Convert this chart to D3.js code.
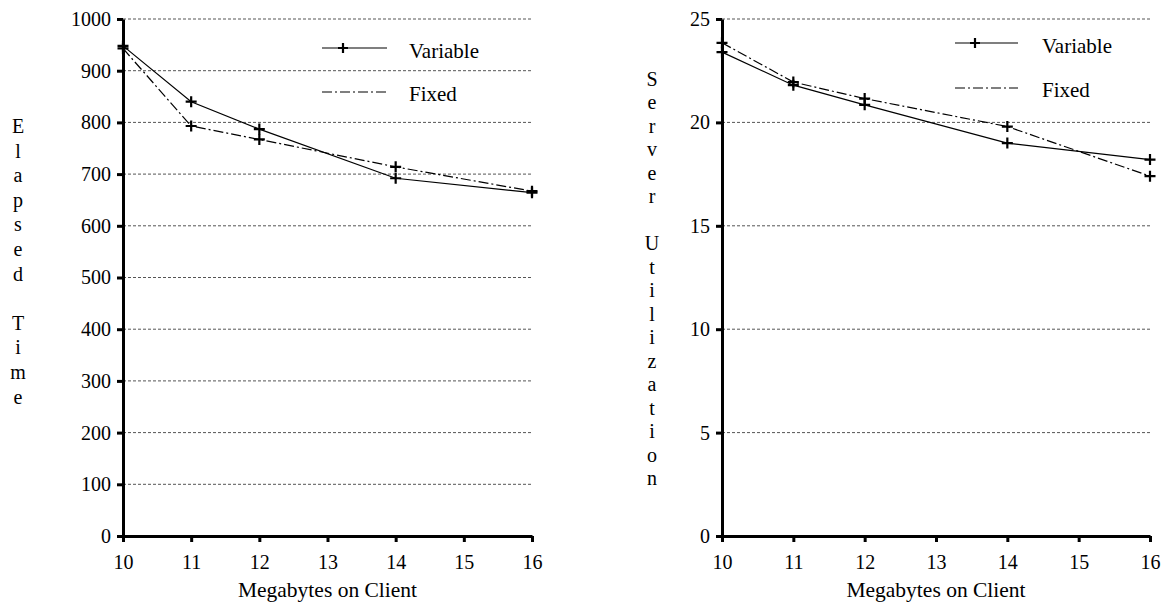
<!DOCTYPE html>
<html>
<head>
<meta charset="utf-8">
<script src="https://cdn.jsdelivr.net/npm/d3@7"></script>
<style>
  html, body { margin: 0; padding: 0; background: #fff; }
  svg { display: block; }
</style>
</head>
<body>
<svg id="chart" width="1162" height="605"></svg>
<script>
// ---------------- data ----------------
const megabytes = [10, 11, 12, 14, 16];
const xTicks = [10, 11, 12, 13, 14, 15, 16];

const elapsedVariable = [948, 840, 787, 692, 664];
const elapsedFixed    = [943, 793, 767, 714, 667];
const elapsedTicks = [0, 100, 200, 300, 400, 500, 600, 700, 800, 900, 1000];

const utilVariable = [23.4, 21.8, 20.85, 19.0, 18.2];
const utilFixed    = [23.85, 21.95, 21.15, 19.8, 17.4];
const utilTicks = [0, 5, 10, 15, 20, 25];

const seriesNames = ["Variable", "Fixed"];
const xTitle = "Megabytes on Client";
const leftYTitle = "Elapsed Time";
const rightYTitle = "Server Utilization";

// ---------------- drawing ----------------
const FONT = "'Liberation Serif', 'Times New Roman', Tinos, 'DejaVu Serif', serif";
const svg = d3.select("#chart");

function drawPanel(cfg) {
  const g = svg.append("g");
  const x = d3.scaleLinear().domain([10, 16]).range([cfg.x0, cfg.x1]);
  const y = d3.scaleLinear().domain([0, cfg.yMax]).range([cfg.y0, cfg.y1]);

  // gridlines
  g.selectAll("line.grid").data(cfg.yTicks.filter(d => d > 0)).enter()
    .append("line")
    .attr("x1", cfg.x0).attr("x2", cfg.x1)
    .attr("y1", d => y(d)).attr("y2", d => y(d))
    .attr("stroke", "#555").attr("stroke-width", 1)
    .attr("stroke-dasharray", "3,2");

  // y axis
  const yAxis = d3.axisLeft(y).tickValues(cfg.yTicks).tickSizeInner(6).tickSizeOuter(0).tickPadding(6)
    .tickFormat(d3.format("d"));
  const ya = g.append("g").attr("transform", `translate(${cfg.x0},0)`).call(yAxis);
  ya.attr("font-family", null);
  ya.select(".domain").attr("stroke", "#000").attr("stroke-width", 3);
  ya.selectAll(".tick line").attr("stroke", "#000").attr("stroke-width", 3);
  ya.selectAll(".tick text").style("font-family", FONT).style("font-size", "20px").attr("fill", "#000");

  // x axis
  const xAxis = d3.axisBottom(x).tickValues(xTicks).tickSizeInner(6).tickSizeOuter(0).tickPadding(13)
    .tickFormat(d3.format("d"));
  const xa = g.append("g").attr("transform", `translate(0,${cfg.y0})`).call(xAxis);
  xa.attr("font-family", null);
  xa.select(".domain").attr("stroke", "#000").attr("stroke-width", 3);
  xa.selectAll(".tick line").attr("stroke", "#000").attr("stroke-width", 3);
  xa.selectAll(".tick text").style("font-family", FONT).style("font-size", "20px").attr("fill", "#000");

  // x title
  g.append("text").attr("x", (cfg.x0 + cfg.x1) / 2).attr("y", cfg.y0 + 61)
    .attr("text-anchor", "middle").style("font-family", FONT).style("font-size", "21.5px").text(xTitle);

  // y title (stacked letters)
  const chars = cfg.yTitle.split("");
  g.selectAll("text.ylab").data(chars).enter().append("text")
    .attr("x", cfg.yTitleX)
    .attr("y", (d, i) => cfg.yTitleTop + i * cfg.yTitleStep)
    .attr("dy", "0.35em")
    .attr("text-anchor", "middle").style("font-family", FONT).style("font-size", "20px")
    .text(d => d);

  // series
  const line = d3.line().x(d => x(d[0])).y(d => y(d[1]));
  const dashes = [null, "10,3,2,3"];
  cfg.series.forEach((vals, si) => {
    const pts = megabytes.map((m, i) => [m, vals[i]]);
    g.append("path").datum(pts).attr("d", line)
      .attr("fill", "none").attr("stroke", "#000").attr("stroke-width", 1.2)
      .attr("stroke-dasharray", dashes[si]);
    g.selectAll(null).data(pts).enter().append("path")
      .attr("d", d => `M${x(d[0]) - 5.5},${y(d[1])}H${x(d[0]) + 5.5}M${x(d[0])},${y(d[1]) - 5.5}V${y(d[1]) + 5.5}`)
      .attr("stroke", "#000").attr("stroke-width", 2.2).attr("fill", "none");
  });

  // legend
  const L = cfg.legend;
  g.append("line").attr("x1", L.x).attr("x2", L.x + L.w).attr("y1", L.y1).attr("y2", L.y1)
    .attr("stroke", "#000").attr("stroke-width", 1.2);
  g.append("path").attr("d", `M${L.mx - 5},${L.y1}H${L.mx + 5}M${L.mx},${L.y1 - 5}V${L.y1 + 5}`)
    .attr("stroke", "#000").attr("stroke-width", 2.2);
  g.append("text").attr("x", L.tx).attr("y", L.y1 + 4).attr("dy", "0.3em")
    .style("font-family", FONT).style("font-size", "21px").text(seriesNames[0]);
  g.append("line").attr("x1", L.x).attr("x2", L.x + L.w).attr("y1", L.y2).attr("y2", L.y2)
    .attr("stroke", "#000").attr("stroke-width", 1.2).attr("stroke-dasharray", "10,3,2,3");
  g.append("text").attr("x", L.tx).attr("y", L.y2 + 3).attr("dy", "0.3em")
    .style("font-family", FONT).style("font-size", "21px").text(seriesNames[1]);
}

drawPanel({
  x0: 123, x1: 532, y0: 536, y1: 19, yMax: 1000, yTicks: elapsedTicks,
  yTitle: leftYTitle, yTitleX: 18, yTitleTop: 126, yTitleStep: 24.6,
  series: [elapsedVariable, elapsedFixed],
  legend: { x: 322, w: 65, mx: 343, tx: 409, y1: 48, y2: 92 }
});

drawPanel({
  x0: 722, x1: 1150, y0: 536, y1: 19, yMax: 25, yTicks: utilTicks,
  yTitle: rightYTitle, yTitleX: 652, yTitleTop: 78.5, yTitleStep: 23.5,
  series: [utilVariable, utilFixed],
  legend: { x: 955, w: 63, mx: 975, tx: 1042, y1: 43, y2: 88 }
});
</script>
</body>
</html>
